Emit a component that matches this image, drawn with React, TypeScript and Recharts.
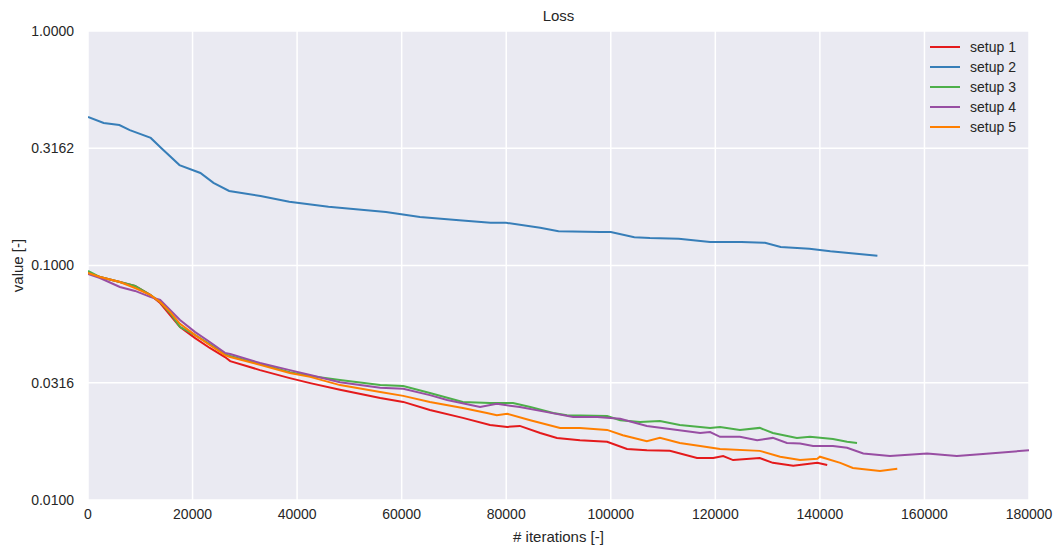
import React from "react";
import {
  LineChart, Line, XAxis, YAxis, CartesianGrid, Label,
} from "recharts";

// iterations / loss values
const setup1 = [
  [0, 0.0929], [2300, 0.0893], [6100, 0.085], [9000, 0.0818], [11900, 0.0749],
  [13800, 0.0692], [15700, 0.0615], [17600, 0.0547], [20500, 0.049], [23300, 0.0445],
  [26200, 0.0407], [27200, 0.0391], [32900, 0.0358], [38600, 0.0331], [42500, 0.0315],
  [48200, 0.0295], [55900, 0.0272], [60300, 0.0262], [65400, 0.0242], [71700, 0.0224],
  [76900, 0.0209], [80200, 0.0205], [82600, 0.0207], [86500, 0.0193], [89700, 0.0184],
  [94100, 0.018], [99300, 0.0177], [103100, 0.0165], [106900, 0.0163], [111300, 0.0162],
  [116500, 0.0151], [119600, 0.0151], [121500, 0.0154], [123400, 0.0148], [128500, 0.0151],
  [131000, 0.0144], [134900, 0.014], [139500, 0.0144], [141400, 0.0141],
];

const setup2 = [
  [0, 0.43], [3000, 0.405], [6000, 0.397], [8000, 0.378], [12000, 0.35],
  [14000, 0.317], [17500, 0.268], [21500, 0.248], [24000, 0.225], [27000, 0.208],
  [33000, 0.198], [38500, 0.187], [46000, 0.178], [57000, 0.169], [63500, 0.161],
  [71000, 0.156], [77000, 0.152], [80000, 0.152], [86500, 0.145], [90000, 0.14],
  [98000, 0.139], [100000, 0.139], [104500, 0.132], [107500, 0.131], [113000, 0.13],
  [119000, 0.126], [125000, 0.126], [129500, 0.125], [132500, 0.12], [138000, 0.118],
  [142000, 0.115], [147500, 0.112], [151000, 0.11],
];

const setup3 = [
  [0, 0.0948], [2300, 0.0893], [6100, 0.085], [9000, 0.0818], [11900, 0.0749],
  [13800, 0.0699], [15700, 0.0627], [17600, 0.0547], [20500, 0.0505], [23300, 0.0462],
  [26200, 0.0419], [27200, 0.0411], [32900, 0.038], [38600, 0.0351], [42500, 0.0338],
  [48200, 0.0325], [55900, 0.0309], [60300, 0.0306], [65400, 0.0286], [71700, 0.0262],
  [76900, 0.0259], [81300, 0.0259], [84600, 0.0249], [89000, 0.0235], [91600, 0.023],
  [99300, 0.0228], [101800, 0.0219], [105600, 0.0215], [109400, 0.0217], [113200, 0.0209],
  [119000, 0.0203], [120900, 0.0205], [124700, 0.0199], [128500, 0.0203], [131000, 0.0193],
  [135600, 0.0184], [138100, 0.0186], [142500, 0.0182], [145200, 0.0177], [147100, 0.0175],
];

const setup4 = [
  [0, 0.092], [2300, 0.0884], [6100, 0.081], [9000, 0.0779], [11900, 0.0735],
  [13800, 0.0713], [15700, 0.0646], [17600, 0.0586], [20500, 0.052], [23300, 0.0472],
  [26200, 0.0424], [27200, 0.0419], [32900, 0.0384], [38600, 0.0358], [42500, 0.0341],
  [48200, 0.0318], [55900, 0.0301], [60300, 0.0298], [65400, 0.028], [68700, 0.0267],
  [75000, 0.0249], [78200, 0.0257], [82600, 0.0249], [87800, 0.0237], [92800, 0.0226],
  [97400, 0.0226], [101800, 0.0222], [106900, 0.0207], [111300, 0.0201], [117100, 0.0193],
  [119000, 0.0195], [120900, 0.0186], [124700, 0.0186], [128000, 0.018], [131000, 0.0184],
  [133700, 0.0175], [136200, 0.0174], [138700, 0.017], [142500, 0.017], [145200, 0.0167],
  [148300, 0.0158], [153400, 0.0154], [160500, 0.0158], [166200, 0.0154], [171200, 0.0157],
  [180000, 0.0163],
];

const setup5 = [
  [0, 0.093], [2300, 0.0893], [6100, 0.085], [9000, 0.0802], [11900, 0.0749],
  [13800, 0.0699], [15700, 0.0634], [17600, 0.0564], [20500, 0.0505], [23300, 0.0458],
  [26200, 0.0415], [27200, 0.0407], [32900, 0.0377], [38600, 0.0348], [42500, 0.0335],
  [48200, 0.0309], [55900, 0.0289], [60300, 0.0278], [65400, 0.0262], [71700, 0.0247],
  [76300, 0.0235], [78200, 0.023], [80200, 0.0233], [84600, 0.0219], [90300, 0.0203],
  [94100, 0.0203], [99300, 0.0199], [102300, 0.0189], [106900, 0.0178], [109400, 0.0184],
  [113200, 0.0175], [117100, 0.017], [120900, 0.0165], [128500, 0.0162], [132400, 0.0153],
  [136200, 0.0148], [139500, 0.015], [140000, 0.0153], [143900, 0.0144], [146300, 0.0137],
  [151500, 0.0133], [154800, 0.0136],
];

const seriesNames = ["setup 1", "setup 2", "setup 3", "setup 4", "setup 5"];
const seriesColors = ["#E41A1C", "#377EB8", "#4DAF4A", "#984EA3", "#FF7F00"];
const seriesData = [setup1, setup2, setup3, setup4, setup5];

const xTicks = [0, 20000, 40000, 60000, 80000, 100000, 120000, 140000, 160000, 180000];
const yTicks = [0.01, 0.0316, 0.1, 0.3162, 1];

const FONT = "'Liberation Sans', Arial, sans-serif";
const TEXT = "#262626";
const tickStyle = { fontSize: 14, fill: TEXT, fontFamily: FONT };
const labelStyle = { fontSize: 15, fill: TEXT, fontFamily: FONT };

const toRows = (pts: number[][]) => pts.map(([it, v]) => ({ it, v }));

function LegendBox() {
  return (
    <div style={{
      position: "absolute", left: 930, top: 37, fontFamily: FONT, fontSize: 14,
      color: TEXT, lineHeight: "20px",
    }}>
      {seriesNames.map((n, i) => (
        <div key={n} style={{ display: "flex", alignItems: "center" }}>
          <span style={{ display: "inline-block", width: 30, height: 2, background: seriesColors[i], marginRight: 10 }} />
          {n}
        </div>
      ))}
    </div>
  );
}

export default function App() {
  return (
    <div style={{ position: "absolute", left: 0, top: 0, width: 1057, height: 550, background: "#fff" }}>
      <LineChart width={1057} height={550} margin={{ top: 31, right: 28, left: 8, bottom: 0 }}>
        <CartesianGrid fill="#EAEAF2" stroke="#FFFFFF" strokeWidth={1.5} />
        <XAxis
          type="number"
          dataKey="it"
          domain={[0, 180000]}
          ticks={xTicks}
          allowDataOverflow
          axisLine={false}
          tickLine={false}
          height={50}
          tickMargin={3}
          tick={tickStyle}
        >
          <Label value="# iterations [-]" position="insideBottom" offset={8} style={labelStyle} />
        </XAxis>
        <YAxis
          type="number"
          scale="log"
          domain={[0.01, 1]}
          ticks={yTicks}
          allowDataOverflow
          axisLine={false}
          tickLine={false}
          width={80}
          tickMargin={8}
          tickFormatter={(v: number) => v.toFixed(4)}
          tick={tickStyle}
        >
          <Label value="value [-]" angle={-90} position="insideLeft" offset={10}
            style={{ ...labelStyle, textAnchor: "middle" }} />
        </YAxis>
        {seriesData.map((pts, i) => (
          <Line
            key={seriesNames[i]}
            data={toRows(pts)}
            dataKey="v"
            name={seriesNames[i]}
            type="linear"
            stroke={seriesColors[i]}
            strokeWidth={2}
            dot={false}
            isAnimationActive={false}
          />
        ))}
      </LineChart>
      <div style={{
        position: "absolute", left: 88, width: 941, top: 7, textAlign: "center",
        fontFamily: FONT, fontSize: 15, color: TEXT,
      }}>
        Loss
      </div>
      <LegendBox />
    </div>
  );
}
